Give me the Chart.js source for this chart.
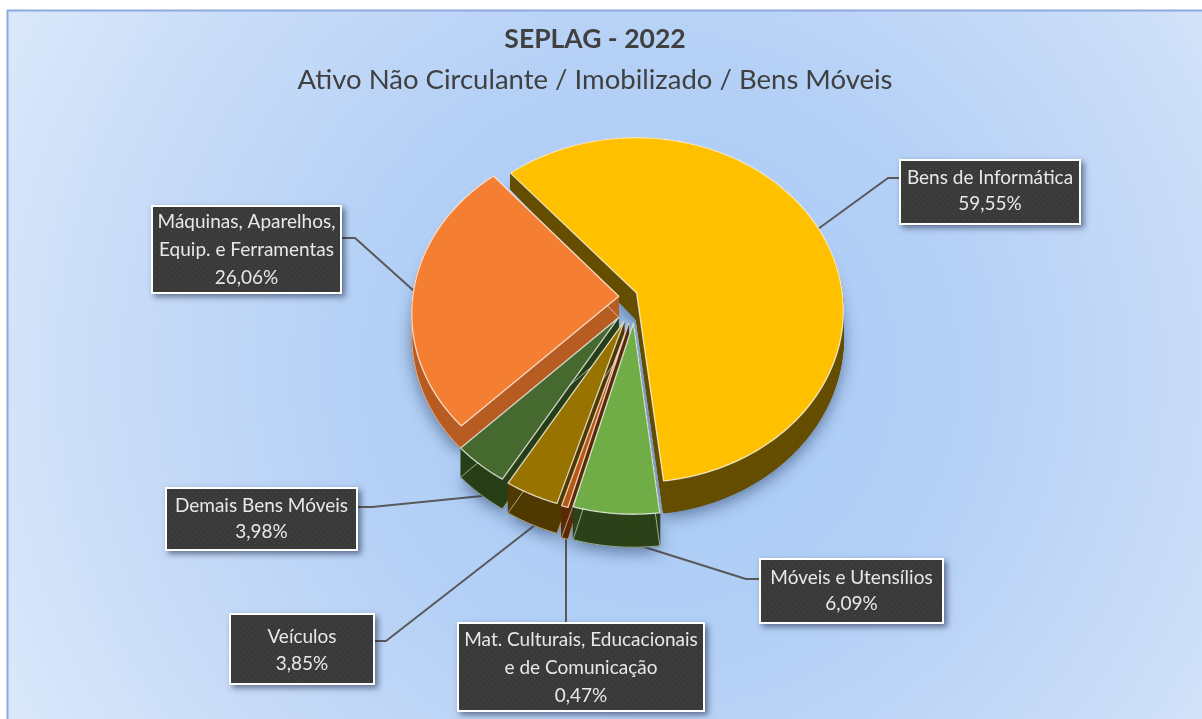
<!DOCTYPE html>
<html lang="pt-BR">
<head>
<meta charset="utf-8">
<title>SEPLAG - 2022</title>
<script src="https://cdn.jsdelivr.net/npm/chart.js@4"></script>
<style>
html,body{margin:0;padding:0;background:#fff;overflow:hidden}
canvas{display:block}
</style>
</head>
<body>
<canvas id="c" width="1202" height="719"></canvas>
<script>
// ---- data ----
const categories = ["Bens de Informática","Móveis e Utensílios","Mat. Culturais, Educacionais e de Comunicação","Veículos","Demais Bens Móveis","Máquinas, Aparelhos, Equip. e Ferramentas"];
const values = [59.55, 6.09, 0.47, 3.85, 3.98, 26.06];
const labelLines = [["Bens de Informática"],["Móveis e Utensílios"],["Mat. Culturais, Educacionais","e de Comunicação"],["Veículos"],["Demais Bens Móveis"],["Máquinas, Aparelhos,","Equip. e Ferramentas"]];
const titleText = "SEPLAG - 2022";
const subtitleText = "Ativo Não Circulante / Imobilizado / Bens Móveis";

// ---- style ----
const topColors  = ["#FFC000","#70AD47","#B9560F","#997300","#46692F","#F47F33"];
const wallColors = ["#654E00","#2B4219","#5C2A06","#4F3A00","#273F17","#B75C22"];
const sliceOffset = 40;               // Chart.js arc offset
const sliceNudge = [[3,-9.5],[7,12],[3.5,13],[0,11],[-4,8],[-1,-8.5]];
// wall height in px as [screenY, px] knots, one list per slice
const wallKnots = [[[173,16],[293,27],[480,32]],[[300,30],[512,33]],[[300,28],[512,32]],[[300,28],[500,30]],[[300,26],[490,30]],[[175,14],[296,21],[423,23]]];
const paintOrder = [0,5,4,3,2,1];
const boxes = [[899,159,182,66,178,204],[759,558,185,66,578,604],[457,622,248,90,640,668,696],[229,613,146,72,637,664],[165,487,193,64,506,532],[151,205,191,89,222,250,278]];
const leaders = [[[899,178],[888,178],[818,229]],[[759,579],[746,579],[622,540]],[[566,622],[566,535]],[[375,641],[386,641],[535,525]],[[358,507],[372,507],[482,496]],[[342,238],[355,238],[414,291]]];

// perspective view of the pie plane
const view = {cx:627, cy:305, f:1166, D:5.66, c:0.556, s:0.831};
function project(X, Y){
  const w = view.D + Y*view.c;
  return [view.cx + view.f*X/w, view.cy - view.f*Y*view.s/w];
}
function wallHeight(i, sy){
  const k = wallKnots[i];
  if (sy <= k[0][0]) return k[0][1];
  for (let j=1;j<k.length;j++){
    if (sy <= k[j][0]){
      const t=(sy-k[j-1][0])/(k[j][0]-k[j-1][0]);
      return k[j-1][1]+t*(k[j][1]-k[j-1][1]);
    }
  }
  return k[k.length-1][1];
}
function slicePolygon(el, i){
  const p = el.getProps(['x','y','startAngle','endAngle','outerRadius'], true);
  const off = (el.options.offset||0)/4, mid=(p.startAngle+p.endAngle)/2;
  const ox = Math.cos(mid)*off, oy = Math.sin(mid)*off, R=p.outerRadius;
  const pts=[];
  const add=(dx,dy)=>{
    const q=project((ox+dx)/R, -(oy+dy)/R);
    pts.push([q[0]+sliceNudge[i][0], q[1]+sliceNudge[i][1]]);
  };
  add(0,0);
  const n=Math.max(3,Math.ceil((p.endAngle-p.startAngle)/0.015));
  for(let k=0;k<=n;k++){
    const a=p.startAngle+(p.endAngle-p.startAngle)*k/n;
    add(R*Math.cos(a),R*Math.sin(a));
  }
  return pts;
}
function trace(ctx, pts, i, t){
  ctx.beginPath();
  pts.forEach((q,k)=>{
    const y=q[1]+wallHeight(i,q[1])*t;
    k?ctx.lineTo(q[0],y):ctx.moveTo(q[0],y);
  });
  ctx.closePath();
}
const pie3d = {
  id:'pie3d',
  beforeDatasetDraw(chart){
    const ctx=chart.ctx, meta=chart.getDatasetMeta(0);
    // soft ground shadow
    ctx.save();
    meta.data.forEach((el,i)=>{
      const pts=slicePolygon(el,i);
      ctx.shadowColor='rgba(30,50,90,0.55)';ctx.shadowBlur=16;ctx.shadowOffsetY=5;
      ctx.fillStyle=wallColors[i];
      trace(ctx,pts,i,1);ctx.fill();
    });
    ctx.restore();
    paintOrder.forEach(i=>{
      const pts=slicePolygon(meta.data[i],i);
      ctx.save();
      ctx.fillStyle=wallColors[i];ctx.strokeStyle=wallColors[i];ctx.lineWidth=1;
      for(let t=1;t>0;t-=0.03){trace(ctx,pts,i,t);ctx.fill();ctx.stroke();}
      ctx.strokeStyle='rgba(255,255,255,0.55)';ctx.lineWidth=1;
      if(i!==0){trace(ctx,pts,i,1);ctx.stroke();}
      trace(ctx,pts,i,0);
      ctx.fillStyle=topColors[i];ctx.fill();
      ctx.strokeStyle='rgba(255,255,255,0.75)';ctx.lineWidth=1.3;ctx.lineJoin='round';ctx.stroke();
      ctx.restore();
    });
    return false;
  }
};
const panel = {
  id:'panel',
  beforeDraw(chart){
    const ctx=chart.ctx;
    ctx.save();
    ctx.fillStyle='#fff';ctx.fillRect(0,0,1202,719);
    const g=ctx.createRadialGradient(660,370,60,660,370,820);
    g.addColorStop(0,'#A9CCF6');g.addColorStop(0.32,'#B4D0F6');g.addColorStop(0.66,'#CADDF8');g.addColorStop(1,'#E2EDFC');
    ctx.fillStyle=g;ctx.fillRect(8,11,1194,708);
    ctx.strokeStyle='#8FAADC';ctx.lineWidth=2;
    ctx.beginPath();ctx.moveTo(7.5,719);ctx.lineTo(7.5,10.5);ctx.lineTo(1202,10.5);ctx.stroke();
    // leader lines sit beneath the pie
    ctx.strokeStyle='#595959';ctx.lineWidth=2;ctx.lineJoin='round';
    leaders.forEach(l=>{ctx.beginPath();l.forEach((q,k)=>k?ctx.lineTo(q[0],q[1]):ctx.moveTo(q[0],q[1]));ctx.stroke();});
    ctx.restore();
  }
};
function dotPattern(ctx){
  const t=document.createElement('canvas');t.width=6;t.height=6;
  const x=t.getContext('2d');
  x.fillStyle='#3A3A3A';x.fillRect(0,0,6,6);
  x.fillStyle='#484848';x.fillRect(0,0,1,1);x.fillRect(3,3,1,1);
  return ctx.createPattern(t,'repeat');
}
const callouts = {
  id:'callouts',
  afterDatasetsDraw(chart){
    const ctx=chart.ctx, pat=dotPattern(ctx);
    boxes.forEach((b,i)=>{
      ctx.save();
      ctx.shadowColor='rgba(20,30,60,0.55)';ctx.shadowBlur=6;ctx.shadowOffsetX=3;ctx.shadowOffsetY=3;
      ctx.fillStyle='#fff';ctx.fillRect(b[0],b[1],b[2],b[3]);
      ctx.restore();
      ctx.save();
      ctx.fillStyle=pat;ctx.fillRect(b[0]+2,b[1]+2,b[2]-4,b[3]-4);
      ctx.fillStyle='#E8E8E8';ctx.font='19px Lato';ctx.textAlign='center';ctx.textBaseline='middle';
      const lines=labelLines[i].concat([values[i].toFixed(2).replace('.',',')+'%']);
      lines.forEach((s,k)=>ctx.fillText(s,b[0]+b[2]/2,b[4+k]));
      ctx.restore();
    });
  }
};
new Chart(document.getElementById('c'),{
  type:'pie',
  data:{labels:categories,datasets:[{data:values,backgroundColor:topColors,borderColor:'#fff',offset:sliceOffset}]},
  plugins:[panel,pie3d,callouts],
  options:{
    responsive:false,animation:false,rotation:-41,
    layout:{padding:{left:0,right:12,top:8,bottom:0}},
    plugins:{
      legend:{display:false},tooltip:{enabled:false},
      title:{display:true,text:titleText,color:'#404040',font:{family:'Lato',size:26.5,weight:'bold'},padding:{top:16,bottom:8}},
      subtitle:{display:true,text:subtitleText,color:'#404040',font:{family:'Lato',size:27.5,weight:'normal'},padding:{top:0,bottom:10}}
    }
  }
});
</script>
</body>
</html>
